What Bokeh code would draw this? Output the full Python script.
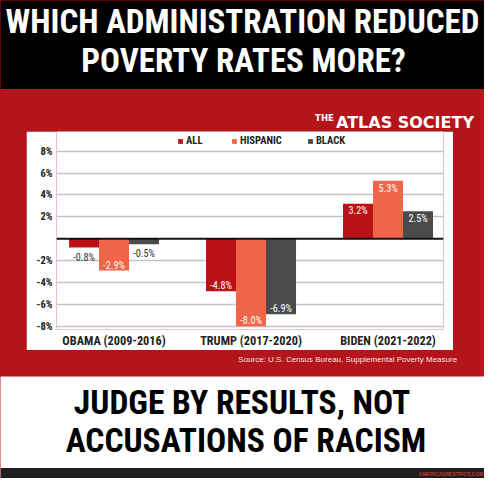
from bokeh.plotting import figure
from bokeh.layouts import column, row
from bokeh.models import (Range1d, FixedTicker, PrintfTickFormatter, Span, Label,
                          BoxAnnotation, Legend, LegendItem, ColumnDataSource)
from bokeh.transform import dodge
from bokeh.core.properties import value
from bokeh.embed import file_html
from bokeh.resources import INLINE

# ---------------- data ----------------
categories = ["OBAMA (2009-2016)", "TRUMP (2017-2020)", "BIDEN (2021-2022)"]
series = ["ALL", "HISPANIC", "BLACK"]
all_vals = [-0.8, -4.8, 3.2]
hispanic_vals = [-2.9, -8.0, 5.3]
black_vals = [-0.5, -6.9, 2.5]
y_ticks = [-8, -6, -4, -2, 2, 4, 6, 8]
title_lines = ["WHICH ADMINISTRATION REDUCED", "POVERTY RATES MORE?"]
bottom_lines = ["JUDGE BY RESULTS, NOT", "ACCUSATIONS OF RACISM"]
source_text = "Source: U.S. Census Bureau, Supplemental Poverty Measure"
logo_small = "THE"
logo_big = "ATLAS SOCIETY"
footer_text = "AMERICASBESTPICS.COM"

# ---------------- styles ----------------
W = 484
RED_BG = "#b3151b"
COLORS = ["#bd1118", "#f06448", "#4b4b4d"]
NARROW = "'Roboto Condensed', 'DejaVu Sans Condensed', 'Noto Sans Condensed', 'Liberation Sans'"
BAR_W = 0.219


def panel(w, h, color):
    f = figure(width=w, height=h, x_range=Range1d(0, w), y_range=Range1d(h, 0),
               x_axis_type=None, y_axis_type=None, toolbar_location=None,
               output_backend="svg", min_border=0,
               background_fill_color=color, border_fill_color=color)
    f.outline_line_color = None
    f.grid.visible = False
    return f


def label(f, x, y, text, size, color, font, style="bold", align="center",
          baseline="middle", alpha=1.0):
    f.add_layout(Label(x=x, y=y, text=text, text_font_size=f"{size}px", text_color=color,
                       text_font=font, text_font_style=style, text_align=align,
                       text_baseline=baseline, text_alpha=alpha))


# ---------------- top black band ----------------
top = panel(W, 89, "black")
label(top, 242, 20.8, title_lines[0], 33, "white", NARROW)
label(top, 243, 60, title_lines[1], 33, "white", NARROW)

# ---------------- red band with logo ----------------
red_top = panel(W, 42, RED_BG)
label(red_top, 314.6, 28.5, logo_small, 8.5, "white", "DejaVu Sans", align="left",
      baseline="alphabetic")
label(red_top, 335.5, 32.7, logo_big, 16, "white", "DejaVu Sans", align="left",
      baseline="alphabetic")

left_red = panel(26, 219, RED_BG)
right_red = panel(31, 219, RED_BG)

# ---------------- chart ----------------
xpos = [i + 0.5 for i in range(len(categories))]
src = ColumnDataSource(dict(x=xpos, ALL=all_vals, HISPANIC=hispanic_vals, BLACK=black_vals))

p = figure(width=427, height=219, output_backend="svg", toolbar_location=None,
           x_range=Range1d(0.08, 2.905), y_range=Range1d(-8.3, 9.8),
           min_border_left=30, min_border_right=10, min_border_top=0, min_border_bottom=21,
           border_fill_color="white", background_fill_color="white")
p.outline_line_color = None

offsets = [-BAR_W, 0.0, BAR_W]
renderers = []
for name, off, col in zip(series, offsets, COLORS):
    r = p.vbar(x=dodge("x", off, range=p.x_range), top=name, bottom=0, width=BAR_W,
               source=src, fill_color=col, line_color=None)
    renderers.append(r)

for name, off, vals in zip(series, offsets, [all_vals, hispanic_vals, black_vals]):
    txt, colr, yoff = [], [], []
    for v in vals:
        txt.append(f"{v:.1f}%")
        if abs(v) >= 1:
            colr.append("white")
            yoff.append(7.3 if v > 0 else -5.3)
        else:
            colr.append("#333333")
            yoff.append(9.7)
    lsrc = ColumnDataSource(dict(x=xpos, y=vals, text=txt, color=colr, yoff=yoff))
    p.text(x=dodge("x", off, range=p.x_range), y="y", text="text", source=lsrc,
           text_color="color", y_offset="yoff", text_align="center", text_baseline="middle",
           text_font=value(NARROW), text_font_size="10.2px")

p.add_layout(Span(location=0, dimension="width", line_color="#111111", line_width=2))

p.xaxis.ticker = FixedTicker(ticks=xpos)
p.xaxis.major_label_overrides = {x: c for x, c in zip(xpos, categories)}
p.yaxis.ticker = FixedTicker(ticks=y_ticks)
p.yaxis.formatter = PrintfTickFormatter(format="%d%%")
for ax in (p.xaxis[0], p.yaxis[0]):
    ax.axis_line_color = None
    ax.major_tick_line_color = None
    ax.minor_tick_line_color = None
    ax.major_tick_in = 0
    ax.major_tick_out = 0
    ax.major_label_text_font = NARROW
    ax.major_label_text_font_style = "bold"
    ax.major_label_text_color = "#222222"
p.xaxis.major_label_text_font_size = "12.3px"
p.xaxis.major_label_standoff = 4
p.yaxis.major_label_text_font_size = "10.6px"
p.yaxis.major_label_standoff = 4
p.xgrid.grid_line_color = None
p.ygrid.grid_line_color = "#c4c4c4"
p.ygrid.grid_line_width = 1.5

legend = Legend(items=[LegendItem(label=s, renderers=[r]) for s, r in zip(series, renderers)],
                orientation="horizontal", location=(121, 182),
                glyph_width=6, glyph_height=6, label_standoff=3, spacing=25,
                padding=0, margin=0, border_line_color=None, background_fill_alpha=0,
                label_text_font=NARROW, label_text_font_style="bold",
                label_text_font_size="10.6px", label_text_color="#222222",
                label_height=11)
p.add_layout(legend)

# ---------------- red band with source ----------------
red_bottom = panel(W, 26, RED_BG)
label(red_bottom, 456.6, 9.1, source_text, 8, "white", "Liberation Sans", style="normal",
      align="right", alpha=0.92)

# ---------------- bottom white band ----------------
bottom = panel(W, 102, "white")
bottom.add_layout(BoxAnnotation(left=0, right=W, top=91.5, bottom=102, fill_color="#1e1e1e",
                                fill_alpha=1.0, line_color=None))
label(bottom, 241.5, 25.7, bottom_lines[0], 33.5, "black", NARROW)
label(bottom, 245.4, 64.4, bottom_lines[1], 33.5, "black", NARROW)
label(bottom, 483, 97.2, footer_text, 5, "#c0392b", "Liberation Sans", align="right")

mid = row(left_red, p, right_red, spacing=0, styles={"background-color": RED_BG})
layout = column(top, red_top, mid, red_bottom, bottom, spacing=0,
                styles={"background-color": RED_BG})

open("out.html", "w").write(file_html(layout, INLINE))
